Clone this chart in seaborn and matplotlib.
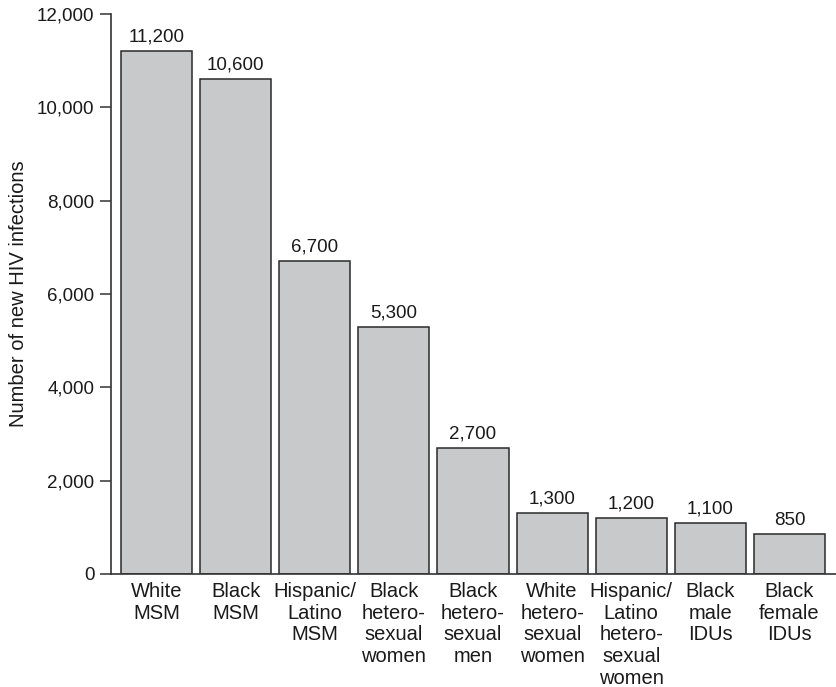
import matplotlib
matplotlib.use("Agg")
import matplotlib.pyplot as plt
import seaborn as sns
import pandas as pd
from matplotlib.ticker import FuncFormatter

categories = [
    "White\nMSM",
    "Black\nMSM",
    "Hispanic/\nLatino\nMSM",
    "Black\nhetero-\nsexual\nwomen",
    "Black\nhetero-\nsexual\nmen",
    "White\nhetero-\nsexual\nwomen",
    "Hispanic/\nLatino\nhetero-\nsexual\nwomen",
    "Black\nmale\nIDUs",
    "Black\nfemale\nIDUs",
]
values = [11200, 10600, 6700, 5300, 2700, 1300, 1200, 1100, 850]
value_labels = ["11,200", "10,600", "6,700", "5,300", "2,700", "1,300", "1,200", "1,100", "850"]
y_ticks = [0, 2000, 4000, 6000, 8000, 10000, 12000]

sns.set_style("white")
plt.rcParams['font.family'] = ['Liberation Sans', 'DejaVu Sans']

df = pd.DataFrame({"group": categories, "count": values})

fig = plt.figure(figsize=(8.36, 6.87), dpi=100)
ax = fig.add_axes([0.1328, 0.1645, 0.8672, 0.8151])

sns.barplot(data=df, x="group", y="count", color="#c8c9cb", saturation=1,
            edgecolor="#2a2a2a", linewidth=1.1, width=0.9, ax=ax, zorder=2)

for patch, lab in zip(ax.patches, value_labels):
    ax.annotate(lab, (patch.get_x() + patch.get_width() / 2, patch.get_height()),
                xytext=(0, 4), textcoords="offset points", ha="center", va="bottom",
                fontsize=13.5, color="#1a1a1a")

ax.set_xlim(-0.575, 8.588)
ax.set_ylim(0, 12000)
ax.set_yticks(y_ticks)
ax.yaxis.set_major_formatter(FuncFormatter(lambda v, p: f"{int(v):,}"))
ax.set_xlabel("")
ax.set_ylabel("Number of new HIV infections", fontsize=14.5, color="#1a1a1a", va="center")
ax.yaxis.set_label_coords(-0.128, 0.5)

for s in ["top", "right"]:
    ax.spines[s].set_visible(False)
for s in ["left", "bottom"]:
    ax.spines[s].set_color("#333333")
    ax.spines[s].set_linewidth(1.2)

ax.tick_params(axis="y", direction="out", length=8, width=1.1, color="#333333",
               labelsize=13.5, labelcolor="#1a1a1a", pad=4, left=True)
ax.tick_params(axis="x", length=0, labelsize=14.5, labelcolor="#1a1a1a", pad=6)
for t in ax.get_xticklabels():
    t.set_linespacing(1.17)

fig.savefig("out.png", dpi=100)
